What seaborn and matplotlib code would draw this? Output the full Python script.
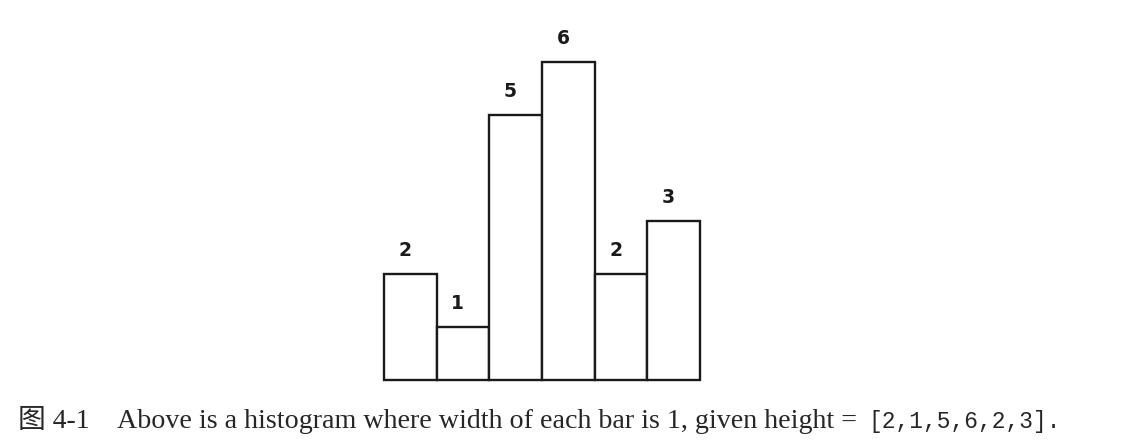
import matplotlib
matplotlib.use('Agg')
import pandas as pd
import seaborn as sns
import matplotlib.pyplot as plt

# data
bars = ['0', '1', '2', '3', '4', '5']
heights = [2, 1, 5, 6, 2, 3]
caption_tag = '图 4-1'
caption_text = 'Above is a histogram where width of each bar is 1, given height = '
caption_list = '[2,1,5,6,2,3].'

df = pd.DataFrame({'bar': bars, 'height': heights})

sns.set_theme(style='white')
fig = plt.figure(figsize=(11.3, 4.44), dpi=100)
ax = fig.add_axes([384 / 1130, 64 / 444, 316 / 1130, 318 / 444])

sns.barplot(x='bar', y='height', data=df, color='white', width=1.0,
            edgecolor='#1a1a1a', linewidth=1.7, ax=ax)
for p in ax.patches:
    p.set_facecolor('white')
    p.set_clip_on(False)

ax.set_xlim(-0.5, 5.5)
ax.set_ylim(0, 6)
ax.axis('off')

# value labels above each bar
for i, h in enumerate(heights):
    ax.text(i - 0.1, h + 0.44, str(h), ha='center', va='center',
            fontsize=13.5, fontweight='bold', color='#1a1a1a',
            family=['DejaVu Sans'])

# caption
y_cap = 1 - 421 / 444
fig.text(18 / 1130, y_cap, caption_tag, ha='left', va='center',
         fontsize=20, family=['Liberation Serif', 'Noto Sans CJK SC'])
t1 = fig.text(117 / 1130, y_cap, caption_text, ha='left', va='center',
              fontsize=20.2, family=['Liberation Serif'])
fig.canvas.draw()
bb = t1.get_window_extent()
fig.text(bb.x1 / 1130 + 0.004, y_cap, caption_list, ha='left', va='center',
         fontsize=16.5, family=['Liberation Mono'])

fig.savefig('out.png', dpi=100, facecolor='white')
